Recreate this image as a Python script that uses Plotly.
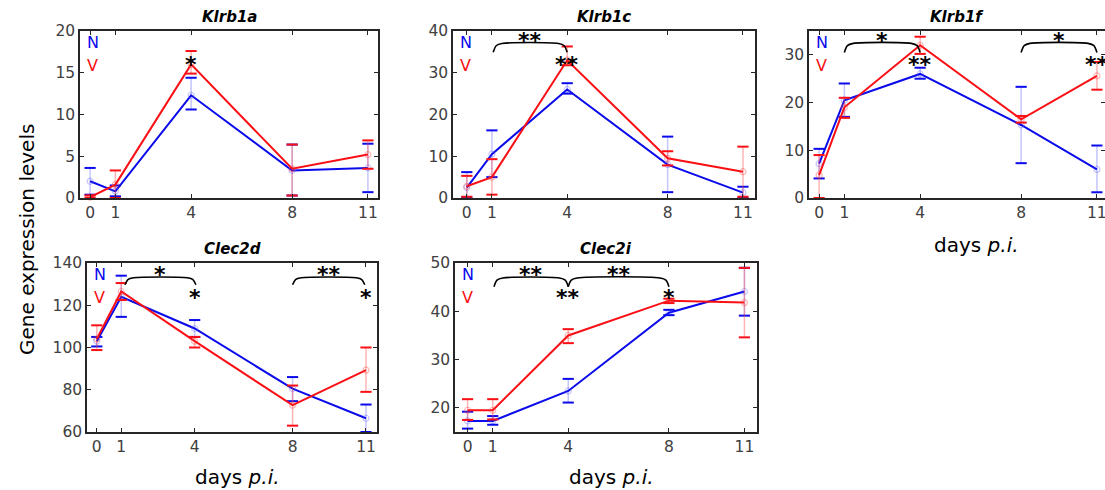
import plotly.graph_objects as go

# ---------------- data ----------------
days = [0, 1, 4, 8, 11]
day_ticks = ["0", "1", "4", "8", "11"]
genes = ["Klrb1a", "Klrb1c", "Klrb1f", "Clec2d", "Clec2i"]
group_names = ["N", "V"]

klrb1a_N = [2.0, 0.8, 12.3, 3.3, 3.6]
klrb1a_N_hi = [3.6, 1.5, 14.4, 6.4, 6.5]
klrb1a_N_lo = [0.4, 0.2, 10.6, 0.3, 0.7]
klrb1a_V = [0.1, 1.6, 16.0, 3.5, 5.2]
klrb1a_V_hi = [0.3, 3.3, 17.6, 6.4, 6.9]
klrb1a_V_lo = [0.0, 0.0, 14.9, 0.3, 3.5]

klrb1c_N = [2.5, 10.5, 26.0, 8.0, 1.3]
klrb1c_N_hi = [6.2, 16.2, 27.5, 14.7, 2.7]
klrb1c_N_lo = [0.0, 5.0, 25.0, 1.4, 0.0]
klrb1c_V = [2.8, 5.0, 33.0, 9.5, 6.3]
klrb1c_V_hi = [5.3, 9.3, 36.3, 11.2, 12.3]
klrb1c_V_lo = [0.3, 0.8, 31.8, 7.8, 0.3]

klrb1f_N = [7.2, 20.5, 26.0, 15.3, 6.0]
klrb1f_N_hi = [10.3, 24.0, 27.3, 23.3, 11.0]
klrb1f_N_lo = [4.1, 17.0, 25.0, 7.3, 1.2]
klrb1f_V = [4.8, 19.0, 32.0, 16.5, 25.6]
klrb1f_V_hi = [9.0, 21.0, 33.8, 17.2, 28.5]
klrb1f_V_lo = [0.0, 16.8, 30.2, 15.8, 22.7]

clec2d_N = [103.0, 124.0, 109.0, 80.5, 66.5]
clec2d_N_hi = [105.0, 134.0, 113.0, 86.0, 73.0]
clec2d_N_lo = [100.5, 114.5, 105.0, 74.6, 60.0]
clec2d_V = [104.0, 126.5, 103.0, 72.7, 89.3]
clec2d_V_hi = [110.5, 130.5, 105.0, 82.0, 100.0]
clec2d_V_lo = [98.8, 122.5, 100.0, 63.0, 79.0]

clec2i_N = [17.3, 17.3, 23.5, 39.7, 44.1]
clec2i_N_hi = [19.2, 18.3, 26.0, 40.3, 49.0]
clec2i_N_lo = [15.7, 16.5, 21.1, 39.2, 39.1]
clec2i_V = [19.5, 19.5, 35.0, 42.2, 41.8]
clec2i_V_hi = [21.8, 21.8, 36.3, 42.6, 49.0]
clec2i_V_lo = [17.5, 17.6, 33.4, 41.7, 34.6]

y_ranges = [[0, 20], [0, 40], [0, 35], [60, 140], [15, 50]]
y_tickvals = [[0, 5, 10, 15, 20], [0, 10, 20, 30, 40], [0, 10, 20, 30],
              [60, 80, 100, 120, 140], [20, 30, 40, 50]]

# significance brackets: (panel index, day from, day to, line level, end level, label, label level)
brackets = [
    (1, 1.05, 4.0, 37.0, 34.9, "**", 38.4),
    (2, 1.0, 4.0, 32.4, 30.5, "*", 33.7),
    (2, 8.0, 11.0, 32.4, 30.5, "*", 33.7),
    (3, 1.15, 4.05, 133.0, 129.7, "*", 136.0),
    (3, 8.0, 10.95, 133.0, 129.7, "**", 136.0),
    (4, 1.05, 4.0, 46.9, 45.1, "**", 48.3),
    (4, 4.0, 8.0, 46.9, 45.1, "**", 48.3),
]
# point stars: (panel index, day, level, label)
point_stars = [
    (0, 4, 16.3, "*"),
    (1, 4, 32.8, "**"),
    (2, 4, 28.6, "**"),
    (2, 11, 28.6, "**"),
    (3, 4, 125.0, "*"),
    (3, 11, 125.0, "*"),
    (4, 4, 43.4, "**"),
    (4, 8, 43.4, "*"),
]

# ---------------- layout geometry (pixels) ----------------
W, H = 1105, 490
boxes = [(80, 378, 31, 198), (453, 755, 31, 198), (809, 1105, 31, 198),
         (87, 377, 263, 432), (455, 757, 263, 432)]
x_ranges = [[-0.4, 11.4], [-0.55, 11.48], [-0.4, 11.32], [-0.4, 11.45], [-0.5, 11.5]]

series = [
    (klrb1a_N, klrb1a_N_hi, klrb1a_N_lo, klrb1a_V, klrb1a_V_hi, klrb1a_V_lo),
    (klrb1c_N, klrb1c_N_hi, klrb1c_N_lo, klrb1c_V, klrb1c_V_hi, klrb1c_V_lo),
    (klrb1f_N, klrb1f_N_hi, klrb1f_N_lo, klrb1f_V, klrb1f_V_hi, klrb1f_V_lo),
    (clec2d_N, clec2d_N_hi, clec2d_N_lo, clec2d_V, clec2d_V_hi, clec2d_V_lo),
    (clec2i_N, clec2i_N_hi, clec2i_N_lo, clec2i_V, clec2i_V_hi, clec2i_V_lo),
]

BLUE = "rgb(10,10,235)"
RED = "rgb(250,15,20)"
BLUE_L = "rgba(90,90,255,0.35)"
RED_L = "rgba(255,70,70,0.4)"
FONT = "DejaVu Sans"
AX = "rgb(38,38,38)"
TICK_FONT = dict(family=FONT, size=15.5, color="rgb(64,64,64)")
STAR_SIZE = 22
STAR_SHIFT = -3

fig = go.Figure()
annotations = []

for i, (box, s) in enumerate(zip(boxes, series)):
    xa = "x" if i == 0 else f"x{i+1}"
    ya = "y" if i == 0 else f"y{i+1}"
    for mean, hi, lo, col, coll in [(s[0], s[1], s[2], BLUE, BLUE_L), (s[3], s[4], s[5], RED, RED_L)]:
        fig.add_trace(go.Scatter(
            x=days, y=mean, xaxis=xa, yaxis=ya, mode="lines+markers",
            line=dict(color=col, width=2),
            marker=dict(symbol="circle-open", size=6, color=coll, line=dict(width=1.2, color=coll)),
            error_y=dict(type="data", symmetric=False,
                         array=[h - m for h, m in zip(hi, mean)],
                         arrayminus=[m - l for m, l in zip(mean, lo)],
                         color=coll, thickness=1.5, width=0),
            showlegend=False, hoverinfo="skip", cliponaxis=False))
        fig.add_trace(go.Scatter(
            x=days + days, y=hi + lo, xaxis=xa, yaxis=ya, mode="markers",
            marker=dict(symbol="line-ew", size=8, color=col, line=dict(width=2, color=col)),
            showlegend=False, hoverinfo="skip", cliponaxis=False))

    # axes
    x0, x1, y0, y1 = box
    common = dict(showline=True, linecolor=AX, linewidth=1.5, mirror="allticks",
                  ticks="inside", ticklen=4, tickwidth=1.2, tickcolor=AX,
                  showgrid=False, zeroline=False, automargin=False, tickfont=TICK_FONT)
    # right-most panel runs off the page edge: its last tick label is drawn as a (clipped) annotation
    ttext = day_ticks[:-1] + [""] if i == 2 else day_ticks
    fig.update_layout(**{
        ("xaxis" if i == 0 else f"xaxis{i+1}"): dict(
            domain=[x0 / W, x1 / W], range=x_ranges[i], anchor=ya,
            tickvals=days, ticktext=ttext, **common),
        ("yaxis" if i == 0 else f"yaxis{i+1}"): dict(
            domain=[1 - y1 / H, 1 - y0 / H], range=y_ranges[i], anchor=xa,
            tickvals=y_tickvals[i], **common),
    })
    if i == 2:
        annotations.append(dict(xref=xa, yref="paper", x=days[-1], y=1 - (y1 + 4) / H,
                                text=day_ticks[-1], showarrow=False, xanchor="center", yanchor="top",
                                font=TICK_FONT))

    # title
    annotations.append(dict(xref="paper", yref="paper", x=(x0 + x1) / 2 / W, y=1 - (y0 - 3) / H,
                            xanchor="center", yanchor="bottom", showarrow=False,
                            text=f"<b><i>{genes[i]}</i></b>",
                            font=dict(family=FONT, size=15, color="black")))
    # N / V labels
    for k, (g, col) in enumerate(zip(group_names, [BLUE, RED])):
        annotations.append(dict(xref="paper", yref="paper", x=(x0 + 5) / W,
                                y=1 - (y0 + 11 + 23 * k) / H,
                                xanchor="left", yanchor="middle", showarrow=False,
                                text=g, font=dict(family=FONT, size=16, color=col)))

# brackets
for (p, a, b, lvl, endl, lab, lab_lvl) in brackets:
    xa = "x" if p == 0 else f"x{p+1}"
    ya = "y" if p == 0 else f"y{p+1}"
    fig.add_trace(go.Scatter(
        x=[a, a + 0.12, a + 0.35, b - 0.35, b - 0.12, b],
        y=[endl, lvl - (lvl - endl) * 0.25, lvl, lvl, lvl - (lvl - endl) * 0.25, endl],
        xaxis=xa, yaxis=ya, mode="lines", line=dict(color="black", width=1.6, shape="spline", smoothing=0.8),
        showlegend=False, hoverinfo="skip", cliponaxis=False))
    annotations.append(dict(xref=xa, yref=ya, x=(a + b) / 2, y=lab_lvl, text=f"<b>{lab}</b>",
                            showarrow=False, xanchor="center", yanchor="middle", yshift=STAR_SHIFT,
                            font=dict(family=FONT, size=STAR_SIZE, color="black")))

for (p, d, lvl, lab) in point_stars:
    xa = "x" if p == 0 else f"x{p+1}"
    ya = "y" if p == 0 else f"y{p+1}"
    annotations.append(dict(xref=xa, yref=ya, x=d, y=lvl, text=f"<b>{lab}</b>",
                            showarrow=False, xanchor="center", yanchor="middle", yshift=STAR_SHIFT,
                            font=dict(family=FONT, size=STAR_SIZE, color="black")))

# axis labels
annotations.append(dict(xref="paper", yref="paper", x=27 / W, y=1 - 240 / H, text="Gene expression levels",
                        textangle=-90, showarrow=False, xanchor="center", yanchor="middle",
                        font=dict(family=FONT, size=20, color="black")))
for (cx, cy) in [(976, 245), (237, 477), (611, 477)]:
    annotations.append(dict(xref="paper", yref="paper", x=cx / W, y=1 - cy / H, text="days <i>p.i.</i>",
                            showarrow=False, xanchor="center", yanchor="middle",
                            font=dict(family=FONT, size=20, color="black")))

fig.update_layout(width=W, height=H, margin=dict(l=0, r=0, t=0, b=0, pad=0),
                  paper_bgcolor="white", plot_bgcolor="white", annotations=annotations,
                  showlegend=False)

fig.write_html("out.html", config={"displayModeBar": False},
               post_script="document.body.style.margin='0';")
